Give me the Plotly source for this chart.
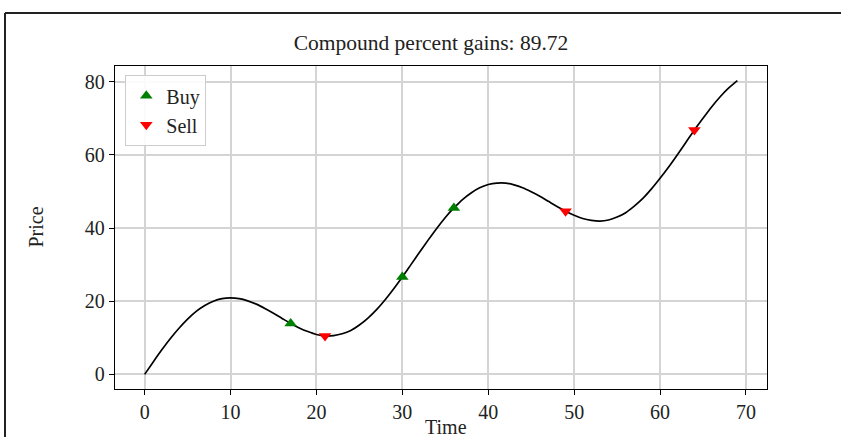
import plotly.graph_objects as go

time = list(range(70))
price = [0.0, 3.4, 6.7, 9.8, 12.6, 15.1, 17.2, 18.8, 20.0, 20.7,
         20.9, 20.7, 20.1, 19.2, 18.0, 16.7, 15.3, 13.9, 12.7, 11.7,
         10.9, 10.5, 10.6, 11.1, 12.0, 13.5, 15.4, 17.7, 20.4, 23.4,
         26.6, 30.0, 33.4, 36.7, 39.9, 42.9, 45.5, 47.8, 49.6, 51.0,
         51.9, 52.3, 52.3, 51.8, 51.0, 49.9, 48.7, 47.3, 45.9, 44.6,
         43.5, 42.6, 42.1, 41.9, 42.2, 43.0, 44.2, 46.0, 48.1, 50.7,
         53.6, 56.7, 60.0, 63.4, 66.8, 70.0, 73.1, 75.9, 78.3, 80.3]
buy_times = [17, 30, 36]
sell_times = [21, 49, 64]
buy_prices = [price[t] for t in buy_times]
sell_prices = [price[t] for t in sell_times]
title_text = "Compound percent gains: 89.72"

FONT = "Liberation Serif, Times New Roman, serif"
TXT = "#222"

fig = go.Figure()
fig.add_trace(go.Scatter(x=time, y=price, mode="lines",
                         line=dict(color="black", width=1.7, shape="spline", smoothing=0.6),
                         showlegend=False))
fig.add_trace(go.Scatter(x=buy_times, y=buy_prices, mode="markers", name="Buy",
                         marker=dict(symbol="triangle-up", color="green", size=11)))
fig.add_trace(go.Scatter(x=sell_times, y=sell_prices, mode="markers", name="Sell",
                         marker=dict(symbol="triangle-down", color="red", size=11)))

L, R, T, B = 115, 74, 66, 48
W, H = 841, 437
pw, ph = W - L - R, H - T - B

def px_to_paper_x(px):
    return (px - L) / pw

def px_to_paper_y(py):
    return (H - B - py) / ph

axis_common = dict(showline=True, linecolor="black", linewidth=1.3, mirror=True,
                   ticks="outside", ticklen=5, tickcolor="black", tickwidth=1.3,
                   showgrid=True, gridcolor="#d4d4d4", gridwidth=1.6,
                   zeroline=False, tickfont=dict(family=FONT, size=20, color=TXT))

fig.update_layout(
    width=W, height=H,
    margin=dict(l=L, r=R, t=T, b=B),
    paper_bgcolor="white", plot_bgcolor="white",
    font=dict(family=FONT, color=TXT),
    title=dict(text=title_text, x=px_to_paper_x(431), xref="paper", xanchor="center",
               y=1 - 42 / H, yref="container", yanchor="middle",
               font=dict(family=FONT, size=21.5, color=TXT)),
    xaxis=dict(range=[-3.45, 72.45], tickvals=[0, 10, 20, 30, 40, 50, 60, 70], **axis_common),
    yaxis=dict(range=[-4.0, 84.3], tickvals=[0, 20, 40, 60, 80], **axis_common),
    legend=dict(x=px_to_paper_x(125), y=px_to_paper_y(75), xanchor="left", yanchor="top",
                bgcolor="rgba(255,255,255,0.9)", bordercolor="#cccccc", borderwidth=1.3,
                font=dict(family=FONT, size=20, color=TXT),
                itemwidth=30, tracegroupgap=0),
    annotations=[
        dict(text="Price", x=px_to_paper_x(35), y=0.5, xref="paper", yref="paper",
             textangle=-90, showarrow=False, xanchor="center", yanchor="middle",
             font=dict(family=FONT, size=20, color=TXT)),
        dict(text="Time", x=px_to_paper_x(446), y=px_to_paper_y(427), xref="paper", yref="paper",
             showarrow=False, xanchor="center", yanchor="middle",
             font=dict(family=FONT, size=20, color=TXT)),
    ],
    shapes=[
        dict(type="line", xref="paper", yref="paper",
             x0=px_to_paper_x(5), x1=px_to_paper_x(900),
             y0=px_to_paper_y(13), y1=px_to_paper_y(13),
             line=dict(color="#222", width=2)),
        dict(type="line", xref="paper", yref="paper",
             x0=px_to_paper_x(5), x1=px_to_paper_x(5),
             y0=px_to_paper_y(13), y1=px_to_paper_y(500),
             line=dict(color="#222", width=2)),
    ],
)

fig.write_html("out.html", config={"displayModeBar": False},
               post_script="document.body.style.margin='0px';")
